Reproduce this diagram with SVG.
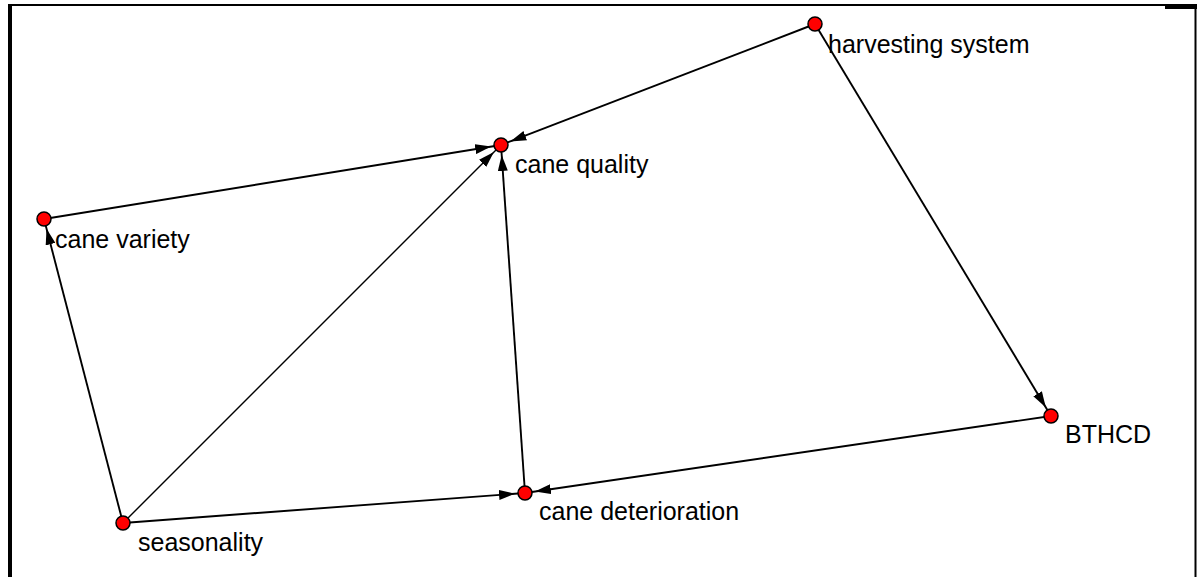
<svg xmlns="http://www.w3.org/2000/svg" width="1197" height="577" viewBox="0 0 1197 577">
<style>
.edge{stroke:#000;stroke-width:1.9;fill:none;marker-end:url(#arr)}
.thin{stroke-width:1.4}
.node{fill:#f00;stroke:#000;stroke-width:1.5}
.lbl{font-family:"Liberation Sans",Arial,sans-serif;font-size:25px;fill:#000}
</style>
<defs>
<marker id="arr" markerUnits="userSpaceOnUse" viewBox="0 0 16 10" markerWidth="16" markerHeight="10" refX="26" refY="5" orient="auto">
<path d="M0,0 L16,5 L0,10 z" fill="#000"/>
</marker>
</defs>
<rect width="1197" height="577" fill="#fff"/>
<g id="frame">
<rect x="8" y="4" width="1189" height="2" fill="#000"/>
<rect x="8" y="4" width="4" height="573" fill="#000"/>
<rect x="1165" y="4" width="32" height="5" fill="#000"/>
<rect x="1194.5" y="4" width="2" height="573" fill="#000"/>
</g>
<g id="connectors">
<line class="edge" x1="815" y1="24" x2="501" y2="145"/>
<line class="edge" x1="815" y1="24" x2="1051" y2="416"/>
<line class="edge" x1="44" y1="219" x2="501" y2="145"/>
<line class="edge" x1="123" y1="523" x2="44" y2="219"/>
<line class="edge thin" x1="123" y1="523" x2="501" y2="145"/>
<line class="edge" x1="123" y1="523" x2="525" y2="493"/>
<line class="edge" x1="525" y1="493" x2="501" y2="145"/>
<line class="edge" x1="1051" y1="416" x2="525" y2="493"/>
</g>
<g id="n-harvesting"><circle class="node" cx="815" cy="24" r="7"/><text class="lbl" x="828" y="53">harvesting system</text></g>
<g id="n-quality"><circle class="node" cx="501" cy="145" r="7"/><text class="lbl" x="515" y="173">cane quality</text></g>
<g id="n-variety"><circle class="node" cx="44" cy="219" r="7"/><text class="lbl" x="55" y="248">cane variety</text></g>
<g id="n-seasonality"><circle class="node" cx="123" cy="523" r="7"/><text class="lbl" x="138" y="551">seasonality</text></g>
<g id="n-deterioration"><circle class="node" cx="525" cy="493" r="7"/><text class="lbl" x="539" y="520">cane deterioration</text></g>
<g id="n-bthcd"><circle class="node" cx="1051" cy="416" r="7"/><text class="lbl" x="1065" y="443">BTHCD</text></g>
</svg>
